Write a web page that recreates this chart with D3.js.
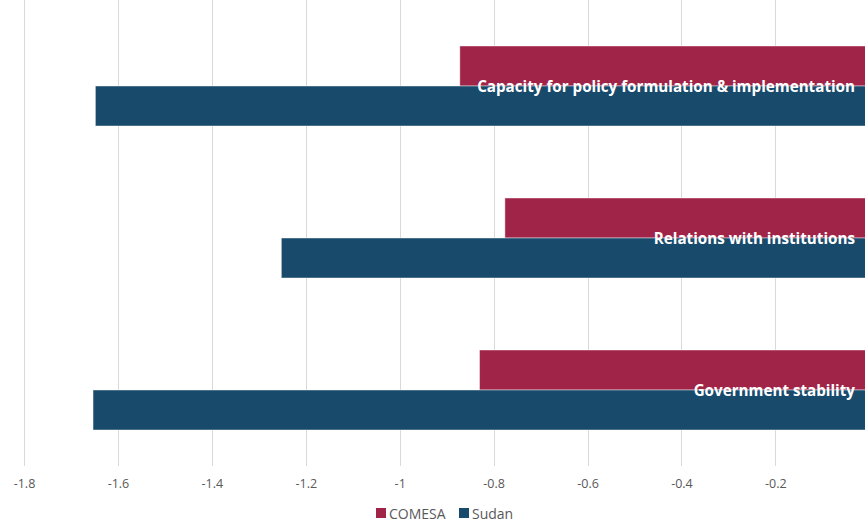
<!DOCTYPE html>
<html><head><meta charset="utf-8">
<script src="https://cdn.jsdelivr.net/npm/d3@7"></script>
<style>body{margin:0;background:#fff;} svg{display:block;}</style>
</head><body>
<svg id="c" width="865" height="521"></svg>
<script>
const categories = ["Capacity for policy formulation & implementation", "Relations with institutions", "Government stability"];
const seriesNames = ["COMESA", "Sudan"];
const comesa = [-0.872, -0.776, -0.830];
const sudan = [-1.648, -1.252, -1.653];
const tickValues = [-1.8, -1.6, -1.4, -1.2, -1, -0.8, -0.6, -0.4, -0.2];
const colors = ["#9f2448", "#174a6b"];

const svg = d3.select("#c");
const x = d3.scaleLinear().domain([-1.8, 0]).range([24, 869.3]);
const y0 = d3.scaleBand().domain(categories).range([10, 466]).paddingInner(0).paddingOuter(0);
const y1 = d3.scaleBand().domain(seriesNames).range([0, 80]);
const groupOffset = (y0.bandwidth() - 80) / 2;

// gridlines
svg.append("g").selectAll("line").data(tickValues).join("line")
  .attr("x1", d => Math.round(x(d)) + 0.5).attr("x2", d => Math.round(x(d)) + 0.5)
  .attr("y1", 0).attr("y2", 466)
  .attr("stroke", "#d9d9d9").attr("stroke-width", 1);

const data = [];
categories.forEach((c, i) => {
  data.push({cat: c, s: "COMESA", v: comesa[i]});
  data.push({cat: c, s: "Sudan", v: sudan[i]});
});

svg.append("g").selectAll("rect").data(data).join("rect")
  .attr("x", d => x(d.v))
  .attr("width", d => x(0) - x(d.v))
  .attr("y", d => y0(d.cat) + groupOffset + y1(d.s))
  .attr("height", y1.bandwidth())
  .attr("fill", d => colors[seriesNames.indexOf(d.s)])
  .attr("stroke", "rgba(255,255,255,0.45)").attr("stroke-width", 1);

// category labels
svg.append("g").selectAll("text").data(categories).join("text")
  .attr("x", 855)
  .attr("y", d => y0(d) + y0.bandwidth() / 2 + 5.5)
  .attr("text-anchor", "end")
  .attr("font-family", "'Open Sans', sans-serif")
  .attr("font-weight", "bold")
  .attr("font-size", "15.2px")
  .attr("fill", "#fff")
  .text(d => d);

// axis labels
const axis = d3.axisBottom(x).tickValues(tickValues).tickSize(0).tickFormat(d => String(d));
const ag = svg.append("g").attr("transform", "translate(0,476)").call(axis);
ag.select(".domain").remove();
ag.selectAll("text").attr("font-family", "'Open Sans', sans-serif").attr("font-size", "12.5px").attr("fill", "#595959");

// legend
const legend = svg.append("g").attr("transform", "translate(376,508)");
const lx = [0, 83];
seriesNames.forEach((s, i) => {
  const g = legend.append("g").attr("transform", `translate(${lx[i]},0)`);
  g.append("rect").attr("width", 10).attr("height", 10).attr("fill", colors[i]);
  g.append("text").attr("x", 13).attr("y", 10.5).attr("font-family", "'Open Sans', sans-serif")
    .attr("font-size", "14px").attr("fill", "#595959").text(s);
});
</script>
</body></html>
